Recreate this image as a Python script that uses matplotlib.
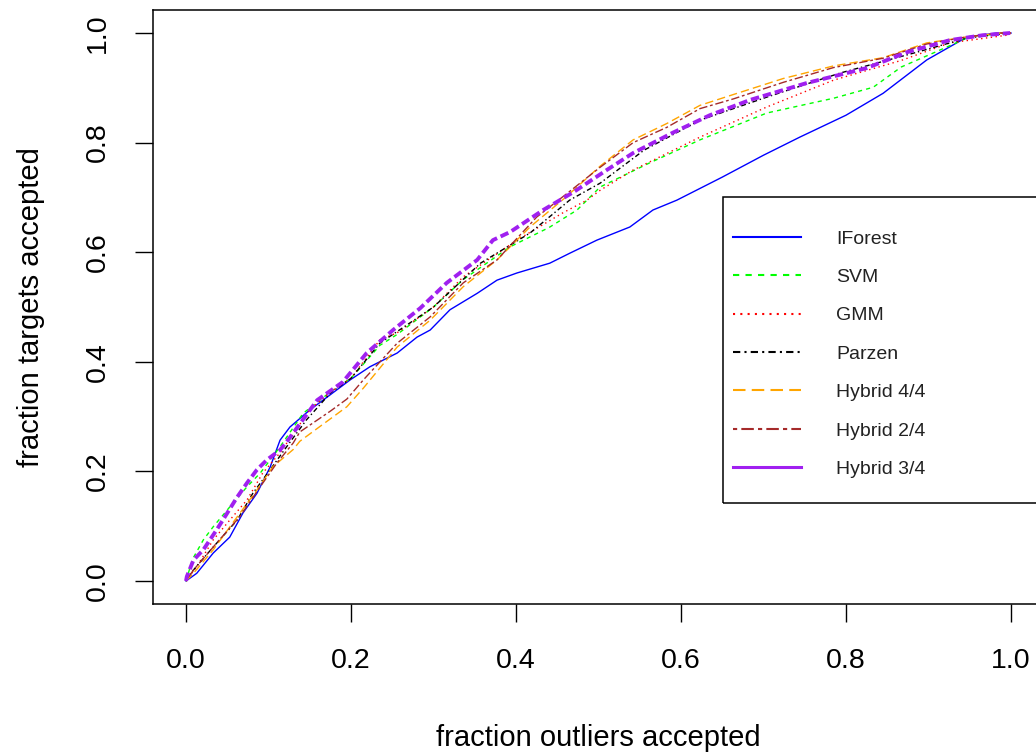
import matplotlib
matplotlib.use("Agg")
import matplotlib.pyplot as plt
from matplotlib.patches import Rectangle

plt.rcParams['font.family'] = ['Liberation Sans', 'DejaVu Sans']

# Data
iforest_x = [0, 0.013, 0.033, 0.053, 0.069, 0.086, 0.102, 0.114, 0.126, 0.15, 0.175, 0.199, 0.223, 0.256, 0.28, 0.296,
             0.32, 0.353, 0.377, 0.401, 0.441, 0.465, 0.498, 0.538, 0.566, 0.595, 0.65, 0.7, 0.744, 0.8, 0.845, 0.898,
             0.947, 0.983, 1.0]
iforest_y = [0, 0.014, 0.051, 0.08, 0.124, 0.16, 0.208, 0.257, 0.281, 0.312, 0.34, 0.367, 0.391, 0.416, 0.445, 0.458,
             0.495, 0.525, 0.549, 0.562, 0.58, 0.598, 0.622, 0.646, 0.677, 0.695, 0.737, 0.777, 0.81, 0.85, 0.89, 0.951,
             0.993, 1.0, 1.0]

svm_x = [0, 0.008, 0.021, 0.033, 0.053, 0.074, 0.09, 0.114, 0.142, 0.175, 0.2, 0.235, 0.256, 0.3, 0.336, 0.393, 0.44,
         0.474, 0.502, 0.562, 0.623, 0.704, 0.785, 0.833, 0.867, 0.905, 0.947, 0.98, 1.0]
svm_y = [0, 0.04, 0.075, 0.099, 0.135, 0.172, 0.197, 0.245, 0.306, 0.345, 0.37, 0.43, 0.45, 0.5, 0.55, 0.61, 0.645,
         0.677, 0.719, 0.763, 0.805, 0.854, 0.881, 0.901, 0.938, 0.963, 0.991, 0.998, 1.0]

gmm_x = [0, 0.013, 0.033, 0.053, 0.074, 0.093, 0.114, 0.15, 0.175, 0.2, 0.235, 0.256, 0.3, 0.336, 0.401, 0.457, 0.486,
         0.502, 0.542, 0.623, 0.704, 0.785, 0.867, 0.926, 0.995, 1.0]
gmm_y = [0, 0.026, 0.075, 0.111, 0.148, 0.197, 0.234, 0.312, 0.345, 0.37, 0.44, 0.453, 0.5, 0.555, 0.622, 0.672, 0.695,
         0.713, 0.75, 0.81, 0.865, 0.914, 0.95, 0.982, 0.996, 1.0]

parzen_x = [0, 0.009, 0.033, 0.062, 0.081, 0.102, 0.122, 0.146, 0.175, 0.2, 0.235, 0.3, 0.357, 0.417, 0.465, 0.502,
            0.555, 0.623, 0.704, 0.793, 0.886, 0.947, 1.0]
parzen_y = [0, 0.02, 0.062, 0.111, 0.16, 0.203, 0.245, 0.294, 0.343, 0.37, 0.434, 0.5, 0.58, 0.635, 0.695, 0.726,
            0.786, 0.841, 0.883, 0.927, 0.965, 0.991, 1.0]

hyb44_x = [0, 0.009, 0.033, 0.062, 0.086, 0.105, 0.13, 0.138, 0.166, 0.195, 0.215, 0.256, 0.296, 0.336, 0.377, 0.417,
           0.46, 0.502, 0.542, 0.583, 0.623, 0.664, 0.724, 0.785, 0.845, 0.898, 0.947, 0.987, 1.0]
hyb44_y = [0, 0.014, 0.057, 0.117, 0.166, 0.208, 0.24, 0.255, 0.286, 0.318, 0.352, 0.427, 0.476, 0.537, 0.586, 0.646,
           0.7, 0.757, 0.805, 0.835, 0.868, 0.888, 0.917, 0.94, 0.955, 0.982, 0.993, 1.0, 1.0]

hyb24_x = [0, 0.009, 0.037, 0.065, 0.09, 0.11, 0.13, 0.138, 0.175, 0.195, 0.215, 0.256, 0.296, 0.336, 0.377, 0.425,
           0.46, 0.502, 0.542, 0.583, 0.623, 0.664, 0.724, 0.785, 0.845, 0.898, 0.947, 0.987, 1.0]
hyb24_y = [0, 0.02, 0.069, 0.117, 0.172, 0.215, 0.252, 0.272, 0.31, 0.332, 0.367, 0.434, 0.482, 0.544, 0.586, 0.664,
           0.705, 0.755, 0.8, 0.828, 0.862, 0.88, 0.91, 0.937, 0.954, 0.98, 0.993, 1.0, 1.0]

hyb34_x = [0, 0.001, 0.009, 0.021, 0.037, 0.05, 0.062, 0.074, 0.086, 0.098, 0.114, 0.126, 0.159, 0.19, 0.219, 0.251,
           0.284, 0.316, 0.353, 0.372, 0.393, 0.433, 0.47, 0.51, 0.542, 0.59, 0.635, 0.684, 0.753, 0.825, 0.874, 0.926,
           0.966, 0.999]
hyb34_y = [0, 0.008, 0.038, 0.057, 0.093, 0.124, 0.153, 0.179, 0.203, 0.221, 0.239, 0.262, 0.33, 0.363, 0.416, 0.458,
           0.498, 0.544, 0.586, 0.622, 0.637, 0.677, 0.71, 0.75, 0.781, 0.818, 0.85, 0.878, 0.909, 0.936, 0.965, 0.987,
           0.996, 1.0]

ticks = [0.0, 0.2, 0.4, 0.6, 0.8, 1.0]
tick_labels = ["0.0", "0.2", "0.4", "0.6", "0.8", "1.0"]

fig = plt.figure(figsize=(10.36, 7.54), dpi=100)
ax = fig.add_axes([153 / 1036, 150 / 754, 891 / 1036, 594 / 754])

ax.plot(iforest_x, iforest_y, color="#0000FF", lw=1.0, label="IForest")
ax.plot(svm_x, svm_y, color="#00FF00", lw=1.0, linestyle=(0, (3, 3)), label="SVM")
ax.plot(gmm_x, gmm_y, color="#FF0000", lw=1.0, linestyle=(0, (1, 2.5)), label="GMM")
ax.plot(parzen_x, parzen_y, color="black", lw=1.0, linestyle=(0, (3.5, 2, 1, 2)), label="Parzen")
ax.plot(hyb44_x, hyb44_y, color="#FFA500", lw=1.0, linestyle=(0, (6, 3)), label="Hybrid 4/4")
ax.plot(hyb24_x, hyb24_y, color="#A52A2A", lw=1.0, linestyle=(0, (2, 2, 6, 2)), label="Hybrid 2/4")
ax.plot(hyb34_x, hyb34_y, color="#A020F0", lw=2.8, linestyle=(0, (2.2, 1.0)), label="Hybrid 3/4")

ax.set_xlim(-0.04, 1.04)
ax.set_ylim(-0.042, 1.042)
ax.set_xticks(ticks, tick_labels)
ax.set_yticks(ticks, tick_labels)
ax.tick_params(axis="both", direction="out", length=13, width=1.0, pad=17, labelsize=20.5)
ax.tick_params(axis="x", pad=19)
for lab in ax.get_yticklabels():
    lab.set_rotation(90)
    lab.set_va("center")
for s in ax.spines.values():
    s.set_linewidth(1.1)

ax.set_xlabel("fraction outliers accepted", fontsize=21, labelpad=36)
ax.set_ylabel("fraction targets accepted", fontsize=21, labelpad=29)

# legend (box drawn separately since it runs off the right edge)
leg = ax.legend(loc="upper left", bbox_to_anchor=(733 / 1036, 1 - 230 / 754),
                bbox_transform=fig.transFigure, frameon=False, fontsize=14, handlelength=3.5,
                handletextpad=1.8, labelspacing=1.07, borderpad=0, borderaxespad=0)
for t in leg.get_texts():
    t.set_color("#222222")
for line in leg.get_lines():
    line.set_linewidth(1.5)
leg.get_lines()[-1].set_linestyle("-")
leg.get_lines()[-1].set_linewidth(2.2)
fig.add_artist(Rectangle((723 / 1036, 1 - 503 / 754), 0.4, 306 / 754, transform=fig.transFigure,
                         facecolor="none", edgecolor="black", lw=1.1))

fig.savefig("out.png", dpi=100)
